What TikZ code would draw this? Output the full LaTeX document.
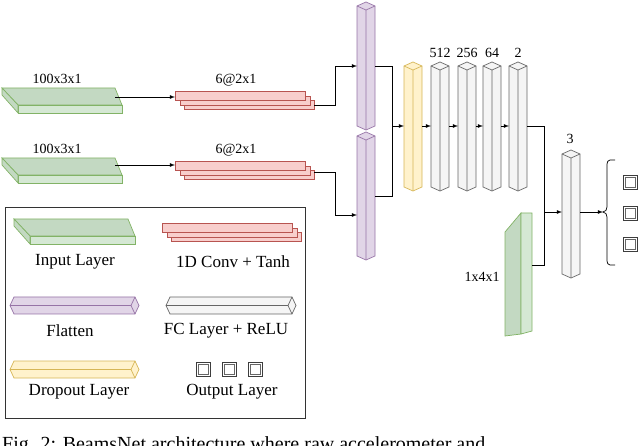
\documentclass[tikz,border=0pt]{standalone}
\usepackage{fontspec}
\setmainfont{Liberation Serif}
\definecolor{gF}{HTML}{D5E8D4}\definecolor{gT}{HTML}{C3D9C2}\definecolor{gS}{HTML}{82B366}
\definecolor{rF}{HTML}{F8CECC}\definecolor{rS}{HTML}{B85450}
\definecolor{pF}{HTML}{E1D5E7}\definecolor{pS}{HTML}{9673A6}
\definecolor{yF}{HTML}{FFF2CC}\definecolor{yS}{HTML}{D6B656}
\definecolor{wF}{HTML}{F5F5F5}\definecolor{wS}{HTML}{666666}
\newcommand{\vcol}[6]{% L W T B fill stroke
 \filldraw[fill=#5,draw=#6,line width=0.7pt] (#1,#3+4)--(#1+#2/2,#3)--(#1+#2,#3+4)--(#1+#2,#4-4)--(#1+#2/2,#4)--(#1,#4-4)--cycle;
 \draw[#6,line width=0.7pt] (#1,#3+4)--(#1+#2/2,#3+8)--(#1+#2,#3+4) (#1+#2/2,#3+8)--(#1+#2/2,#4);}
\newcommand{\hcol}[6]{% L R T B fill stroke
 \filldraw[fill=#5,draw=#6,line width=0.7pt] (#1+4,#3)--(#2-4,#3)--(#2,#3/2+#4/2)--(#2-4,#4)--(#1+4,#4)--(#1,#3/2+#4/2)--cycle;
 \draw[#6,line width=0.7pt] (#2-4,#3)--(#2-8,#3/2+#4/2)--(#2-4,#4) (#1,#3/2+#4/2)--(#2-8,#3/2+#4/2);}
\newcommand{\slab}[3]{% x y(top) width
 \filldraw[fill=gT,draw=gS,line width=0.7pt] (#1,#2)--(#1+#3-7,#2)--(#1+#3,#2+17)--(#1+16,#2+17)--cycle;
 \filldraw[fill=gF,draw=gS,line width=0.7pt] (#1+16,#2+17) rectangle (#1+#3,#2+25);
 \filldraw[fill=gT,draw=gS,line width=0.7pt] (#1,#2)--(#1+16,#2+17)--(#1+16,#2+25)--(#1,#2+7)--cycle;}
\newcommand{\conv}[3]{% x y w
 \foreach \d in {9,5,0}{\filldraw[fill=rF,draw=rS,line width=0.7pt] (#1+\d,#2+\d) rectangle (#1+#3+\d,#2+\d+9);}}
\newcommand{\osq}[2]{\draw[wS!60!black,line width=0.8pt] (#1,#2) rectangle ++(14,14); \draw[wS,line width=0.6pt] (#1+2,#2+2) rectangle ++(10,10);}
\begin{document}
\begin{tikzpicture}[x=1pt,y=-1pt,
 lab/.style={font=\fontsize{14}{16}\selectfont,inner sep=0pt},
 leg/.style={font=\fontsize{17}{19}\selectfont,inner sep=0pt},
 con/.style={line width=0.8pt,black},
 arr/.style={con,-latex}]
\useasboundingbox (0,0) rectangle (640,446);
% inputs and conv
\slab{2}{88}{120}\slab{2}{158}{120}
\node[lab] (l1) at (57,79) {100x3x1};
\node[lab] (l2) at (57,149) {100x3x1};
\conv{175}{91}{130}\conv{175}{161}{130}
\node[lab] (c1) at (236,80) {6@2x1};
\node[lab] (c2) at (236,150) {6@2x1};
\coordinate (i1) at (115,97);\coordinate (k1) at (175,97);
\coordinate (i2) at (115,165);\coordinate (k2) at (175,165);
\draw[arr] (i1)--(k1);\draw[arr] (i2)--(k2);
% flatten
\vcol{357}{18}{2}{130}{pF}{pS}\vcol{357}{18}{132}{260}{pF}{pS}
\coordinate (o1) at (314,105);\coordinate (f1) at (357,66);
\coordinate (o2) at (314,172);\coordinate (f2) at (357,215);
\draw[arr] (o1)-|(335,66)--(f1);
\draw[arr] (o2)-|(335,215)--(f2);
\coordinate (p1) at (375,66);\coordinate (p2) at (375,196);
\draw[con] (p1)-|(392,196)--(p2);
% dropout + fc
\vcol{404}{18}{62}{191}{yF}{yS}
\foreach \x in {431,458,483,509}{\vcol{\x}{18}{62}{191}{wF}{wS}}
\node[lab] at (440,53) {512};\node[lab] at (467,53) {256};
\node[lab] at (492,53) {64};\node[lab] at (518,53) {2};
\draw[arr] (392,126)--(404,126);
\foreach \a/\b in {422/431,449/458,476/483,501/509}{\draw[arr] (\a,126)--(\b,126);}
% second input
\filldraw[fill=gT,draw=gS,line width=0.7pt] (505,232)--(521,213)--(521,334)--(505,336)--cycle;
\filldraw[fill=gF,draw=gS,line width=0.7pt] (521,213)--(532,213)--(532,331)--(521,334)--cycle;
\node[lab] (l3) at (482,277) {1x4x1};
\coordinate (fc4) at (527,126);\coordinate (g) at (532,265);\coordinate (t3) at (562,212);
\draw[con] (fc4)-|(544,265)--(g);
\draw[arr] (544,212)--(t3);
\vcol{562}{18}{150}{278}{wF}{wS}
\node[lab] at (570,139) {3};
\draw[arr] (580,212)--(603,212);
\draw[line width=0.7pt] (615,160)--(610,160) to[out=180,in=90] (607,164)--(607,207) to[out=-90,in=0] (603,212) to[out=0,in=90] (607,217)--(607,261) to[out=-90,in=180] (610,265)--(615,265);
\osq{623}{175}\osq{623}{206}\osq{623}{237}
% legend
\draw[line width=0.8pt,black!80] (5,207) rectangle (305,418);
\slab{14}{219}{121}
\node[leg] at (75,262) {Input Layer};
\conv{162}{223}{130}
\node[leg] at (233,262) {1D Conv + Tanh};
\hcol{10}{139}{297}{314}{pF}{pS}
\node[leg] at (70,331) {Flatten};
\hcol{166}{296}{297}{314}{wF}{wS}
\node[leg] at (226,331) {FC Layer + ReLU};
\hcol{10}{139}{361}{378}{yF}{yS}
\node[leg] at (79,392) {Dropout Layer};
\osq{196}{362}\osq{222}{362}\osq{248}{362}
\node[leg] at (232,392) {Output Layer};
\node[font=\fontsize{20}{22}\selectfont,anchor=west,inner sep=0pt] at (2,446) {Fig. 2: BeamsNet architecture where raw accelerometer and};
\end{tikzpicture}
\end{document}
